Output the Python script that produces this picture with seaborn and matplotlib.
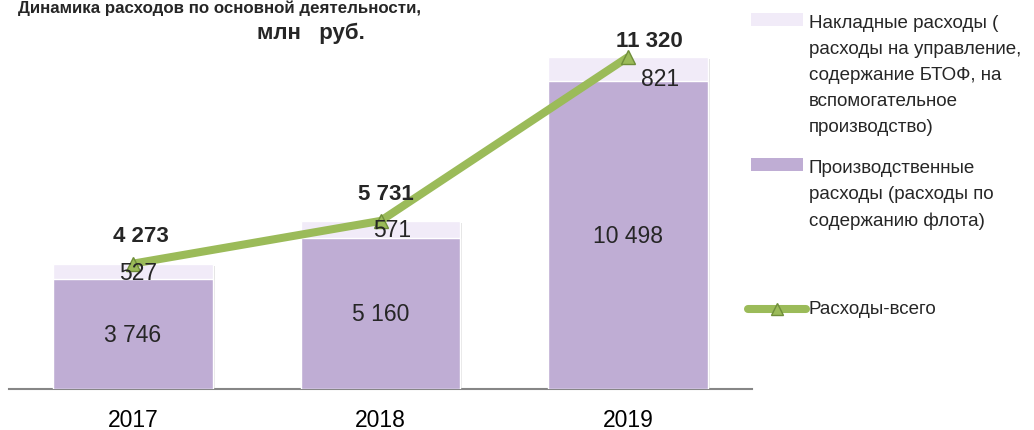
import matplotlib
matplotlib.use("Agg")
import matplotlib.pyplot as plt
import matplotlib.patheffects as pe
import seaborn as sns
import pandas as pd
import numpy as np
from matplotlib.patches import Rectangle
from matplotlib.lines import Line2D

years = ["2017", "2018", "2019"]
production = [3746, 5160, 10498]
overhead = [527, 571, 821]
totals = [4273, 5731, 11320]
prod_labels = ["3 746", "5 160", "10 498"]
over_labels = ["527", "571", "821"]
total_labels = ["4 273", "5 731", "11 320"]

legend_over = "Накладные расходы (\nрасходы на управление,\nсодержание БТОФ, на\nвспомогательное\nпроизводство)"
legend_prod = "Производственные\nрасходы (расходы по\nсодержанию флота)"
legend_total = "Расходы-всего"
title1 = "Динамика расходов по основной деятельности,"
title2 = "млн   руб."

sns.set_theme(style="white")
plt.rcParams['font.family'] = ['Liberation Sans', 'DejaVu Sans']

C_PROD = "#BFADD4"
C_OVER = "#F1EBF8"
C_LINE = "#9BBB59"
C_MEDGE = "#6F8E3A"

df = pd.DataFrame({"year": years, "production": production, "overhead": overhead})
df["stack"] = df["production"] + df["overhead"]

fig = plt.figure(figsize=(10.34, 4.31), dpi=100)
ax = fig.add_axes([0.0087, 0.0951, 0.7186, 0.8167])

sns.barplot(data=df, x="year", y="stack", color=C_OVER, width=0.645, saturation=1, ax=ax, zorder=2)
sns.barplot(data=df, x="year", y="production", color=C_PROD, width=0.645, saturation=1, ax=ax, zorder=3)
shadow = [pe.SimplePatchShadow(offset=(1.5, -1.5), shadow_rgbFace="#000000", alpha=0.12), pe.Normal()]
for i, p in enumerate(ax.patches):
    if i < len(years):
        p.set_path_effects(shadow)

xs = np.arange(len(years))
ax.plot(xs, totals, color=C_LINE, lw=5.8, zorder=5, solid_capstyle="butt")
ax.plot(xs, totals, ls="none", marker="^", ms=10, mfc=C_LINE, mec=C_MEDGE, mew=1, zorder=6)

ax.set_xlim(-0.5, 2.5)
ax.set_ylim(0, 12000)
ax.set_xlabel("")
ax.set_ylabel("")
ax.set_yticks([])
for s in ["top", "right", "left"]:
    ax.spines[s].set_visible(False)
ax.spines["bottom"].set_color("#868686")
ax.spines["bottom"].set_linewidth(1.5)
ax.tick_params(axis="x", length=0, pad=14, labelsize=16.5, labelcolor="#000000")

for i in range(len(years)):
    ax.text(xs[i], production[i] / 2, prod_labels[i], ha="center", va="center", fontsize=16.5, zorder=7)
over_off = [(3.5, -1), (8.5, 0), (23, -6.6)]
for i in range(len(years)):
    ax.annotate(over_labels[i], (xs[i], production[i] + overhead[i] / 2), xytext=over_off[i],
                textcoords="offset points", ha="center", va="center", fontsize=16.5, zorder=7)
tot_off = [(6, 20), (4, 20), (15, 12)]
for i in range(len(years)):
    ax.annotate(total_labels[i], (xs[i], totals[i]), xytext=tot_off[i], textcoords="offset points",
                ha="center", va="center", fontsize=16, fontweight="bold", zorder=7)

def fx(px):
    return px / 1034
def fy(py):
    return 1 - py / 431

# title
fig.text(fx(220), fy(13), title1, ha="center", va="baseline", fontsize=12.2, fontweight="bold")
fig.text(fx(311), fy(33), title2, ha="center", va="center", fontsize=16, fontweight="bold")

# legend (manual)
fig.patches.append(Rectangle((fx(751), fy(27)), 52 / 1034, 13 / 431, transform=fig.transFigure,
                             facecolor=C_OVER, edgecolor="none"))
fig.patches.append(Rectangle((fx(751), fy(172)), 52 / 1034, 13 / 431, transform=fig.transFigure,
                             facecolor=C_PROD, edgecolor="none"))
fig.lines.append(Line2D([fx(748), fx(806)], [fy(310), fy(310)], transform=fig.transFigure,
                        color=C_LINE, lw=5.8))
fig.lines.append(Line2D([fx(777)], [fy(310)], transform=fig.transFigure, ls="none", marker="^",
                        ms=8, mfc=C_LINE, mec=C_MEDGE, mew=1))
fig.text(fx(809), fy(15), legend_over, ha="left", va="top", fontsize=13.5, linespacing=1.7)
fig.text(fx(809), fy(160), legend_prod, ha="left", va="top", fontsize=13.5, linespacing=1.7)
fig.text(fx(809), fy(310), legend_total, ha="left", va="center", fontsize=13.5)

fig.savefig("out.png", dpi=100)
